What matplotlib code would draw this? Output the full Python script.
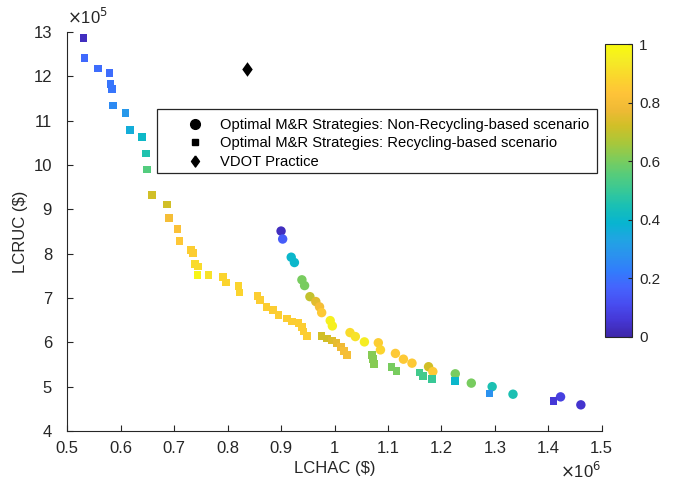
import numpy as np
import matplotlib
matplotlib.use("Agg")
import matplotlib.pyplot as plt
from matplotlib.colors import LinearSegmentedColormap
from matplotlib.lines import Line2D
from matplotlib.patches import Rectangle
from matplotlib.ticker import FuncFormatter

# ---------------- data (x in 1e6 $, y in 1e5 $, c = colour value) ----------------
nonrec_x = [0.900, 0.903, 0.919, 0.925, 0.939, 0.944, 0.954, 0.965, 0.972, 0.976,
            0.992, 0.996, 1.029, 1.039, 1.056, 1.082, 1.086, 1.114, 1.129, 1.145,
            1.176, 1.184, 1.226, 1.256, 1.295, 1.334, 1.423, 1.461]
nonrec_y = [8.51, 8.33, 7.92, 7.80, 7.41, 7.28, 7.03, 6.92, 6.80, 6.67,
            6.49, 6.37, 6.22, 6.13, 6.01, 5.99, 5.83, 5.75, 5.62, 5.53,
            5.45, 5.34, 5.29, 5.08, 5.00, 4.83, 4.77, 4.59]
nonrec_c = [0.03, 0.15, 0.40, 0.40, 0.60, 0.60, 0.70, 0.75, 0.80, 0.85,
            0.96, 0.96, 0.90, 0.92, 0.95, 0.86, 0.88, 0.85, 0.85, 0.85,
            0.72, 0.85, 0.60, 0.60, 0.45, 0.45, 0.08, 0.05]

rec_x = [0.530, 0.532, 0.557, 0.579, 0.581, 0.584, 0.586, 0.609, 0.617, 0.640,
         0.647, 0.649, 0.659, 0.686, 0.690, 0.706, 0.710, 0.731, 0.735, 0.739,
         0.745, 0.744, 0.764, 0.791, 0.797, 0.820, 0.822, 0.856, 0.861, 0.873,
         0.885, 0.895, 0.911, 0.920, 0.933, 0.939, 0.942, 0.948, 0.976, 0.986,
         0.995, 1.004, 1.012, 1.018, 1.023, 1.070, 1.072, 1.074, 1.107, 1.116,
         1.159, 1.166, 1.182, 1.226, 1.290, 1.410]
rec_y = [12.87, 12.41, 12.18, 12.08, 11.83, 11.72, 11.34, 11.17, 10.79, 10.63,
         10.26, 9.90, 9.32, 9.11, 8.80, 8.56, 8.29, 8.08, 8.01, 7.77,
         7.71, 7.52, 7.52, 7.47, 7.35, 7.27, 7.12, 7.05, 6.96, 6.80,
         6.73, 6.62, 6.54, 6.47, 6.43, 6.35, 6.24, 6.14, 6.14, 6.09,
         6.04, 5.98, 5.90, 5.81, 5.71, 5.71, 5.62, 5.51, 5.45, 5.35,
         5.32, 5.24, 5.17, 5.13, 4.85, 4.68]
rec_c = [0.03, 0.18, 0.19, 0.19, 0.21, 0.21, 0.26, 0.30, 0.36, 0.41,
         0.46, 0.55, 0.72, 0.72, 0.80, 0.82, 0.84, 0.86, 0.86, 0.90,
         0.90, 0.98, 0.92, 0.88, 0.88, 0.88, 0.88, 0.86, 0.86, 0.86,
         0.86, 0.86, 0.86, 0.86, 0.86, 0.86, 0.86, 0.86, 0.72, 0.72,
         0.74, 0.76, 0.78, 0.80, 0.80, 0.62, 0.62, 0.62, 0.60, 0.60,
         0.52, 0.52, 0.50, 0.40, 0.28, 0.06]

vdot_x = [0.836]
vdot_y = [12.16]

x_scale = 1e6
y_scale = 1e5
x_ticks = [0.5, 0.6, 0.7, 0.8, 0.9, 1.0, 1.1, 1.2, 1.3, 1.4, 1.5]
y_ticks = [4, 5, 6, 7, 8, 9, 10, 11, 12, 13]
cbar_ticks = [0, 0.2, 0.4, 0.6, 0.8, 1]

legend_labels = ["Optimal M&R Strategies: Non-Recycling-based scenario",
                 "Optimal M&R Strategies: Recycling-based scenario",
                 "VDOT Practice"]

# ---------------- style ----------------
parula_pts = [
    (0.2422, 0.1504, 0.6603), (0.2706, 0.2147, 0.8364), (0.2813, 0.3006, 0.9414),
    (0.2699, 0.3892, 0.9906), (0.1963, 0.4847, 0.9892), (0.1687, 0.5703, 0.9359),
    (0.1248, 0.6459, 0.8883), (0.0297, 0.7082, 0.8163), (0.0964, 0.7500, 0.7120),
    (0.2161, 0.7843, 0.5923), (0.3406, 0.8008, 0.4789), (0.5044, 0.7993, 0.3480),
    (0.6720, 0.7793, 0.2227), (0.8203, 0.7498, 0.1535), (0.9393, 0.7288, 0.2100),
    (0.9970, 0.7659, 0.2199), (0.9813, 0.8393, 0.1760), (0.9593, 0.9211, 0.1488),
    (0.9763, 0.9831, 0.0538)]
parula = LinearSegmentedColormap.from_list("parula", parula_pts, N=256)

plt.rcParams['font.family'] = ['Liberation Sans', 'DejaVu Sans']
txt = (0.15, 0.15, 0.15)

W, H = 680, 482
fig = plt.figure(figsize=(W / 100, H / 100), dpi=100)
ax = fig.add_axes([67.3 / W, 51 / H, 534.4 / W, 399 / H])

xs = lambda v: np.asarray(v) * x_scale
ys = lambda v: np.asarray(v) * y_scale

ax.scatter(xs(nonrec_x), ys(nonrec_y), c=nonrec_c, cmap=parula, vmin=0, vmax=1,
           marker='o', s=46, linewidths=0, zorder=3)
sc = ax.scatter(xs(rec_x), ys(rec_y), c=rec_c, cmap=parula, vmin=0, vmax=1,
                marker='s', s=30, linewidths=0, zorder=3)
diamond = [(0, 1), (0.72, 0), (0, -1), (-0.72, 0), (0, 1)]
ax.scatter(xs(vdot_x), ys(vdot_y), c='black', marker=diamond, s=110,
           linewidths=0, zorder=4)

ax.set_xlim(0.5 * x_scale, 1.5 * x_scale)
ax.set_ylim(4 * y_scale, 13 * y_scale)
ax.set_xticks(xs(x_ticks))
ax.set_yticks(ys(y_ticks))
ax.xaxis.set_major_formatter(FuncFormatter(lambda v, p: "%g" % round(v / x_scale, 3)))
ax.yaxis.set_major_formatter(FuncFormatter(lambda v, p: "%g" % round(v / y_scale, 3)))

for s in ['top', 'right']:
    ax.spines[s].set_visible(False)
for s in ['left', 'bottom']:
    ax.spines[s].set_color(txt)
    ax.spines[s].set_linewidth(0.8)
ax.tick_params(axis='x', direction='in', length=4, width=0.8, colors=txt,
               labelsize=12, pad=7)
ax.tick_params(axis='y', direction='in', length=4, width=0.8, colors=txt,
               labelsize=12, pad=11)

ax.set_xlabel("LCHAC ($)", fontsize=12, color=txt, labelpad=4)
ax.set_ylabel("LCRUC ($)", fontsize=12, color=txt, labelpad=4)

ax.text(0.0, 1.012, r"$\times$10$^{5}$", transform=ax.transAxes, fontsize=12,
        color=txt, ha='left', va='bottom')
ax.text(1.0, -0.075, r"$\times$10$^{6}$", transform=ax.transAxes, fontsize=12,
        color=txt, ha='right', va='top')

# legend frame (drawn separately so the handle sits well inside the box)
fig.patches.append(Rectangle((157 / W, (H - 173) / H), 440 / W, 64 / H,
                             transform=fig.transFigure, facecolor='white',
                             edgecolor=txt, linewidth=0.9, zorder=5))

handles = [
    Line2D([], [], linestyle='none', marker='o', color='black', markersize=7),
    Line2D([], [], linestyle='none', marker='s', color='black', markersize=5),
    Line2D([], [], linestyle='none', marker=diamond, color='black', markersize=8),
]
fs_leg = 10.6
em = fs_leg * 100 / 72
leg = fig.legend(handles, legend_labels, loc='upper left',
                 bbox_to_anchor=((170 - 0.3 * em) / W, (H - 113.5) / H),
                 fontsize=fs_leg, frameon=False, handlelength=50 / em,
                 handletextpad=0.0, labelspacing=0.3, borderpad=0.3,
                 borderaxespad=0)
leg.set_zorder(6)
for t in leg.get_texts():
    t.set_color('black')

cax = fig.add_axes([605 / W, (H - 337) / H, 27 / W, 293 / H])
cb = fig.colorbar(sc, cax=cax, ticks=cbar_ticks)
cb.ax.yaxis.set_major_formatter(FuncFormatter(lambda v, p: "%g" % round(v, 2)))
cb.ax.tick_params(direction='in', length=3, width=0.8, colors=txt, labelsize=11, pad=5)
cb.outline.set_edgecolor(txt)
cb.outline.set_linewidth(0.8)

fig.savefig("out.png", dpi=100)
